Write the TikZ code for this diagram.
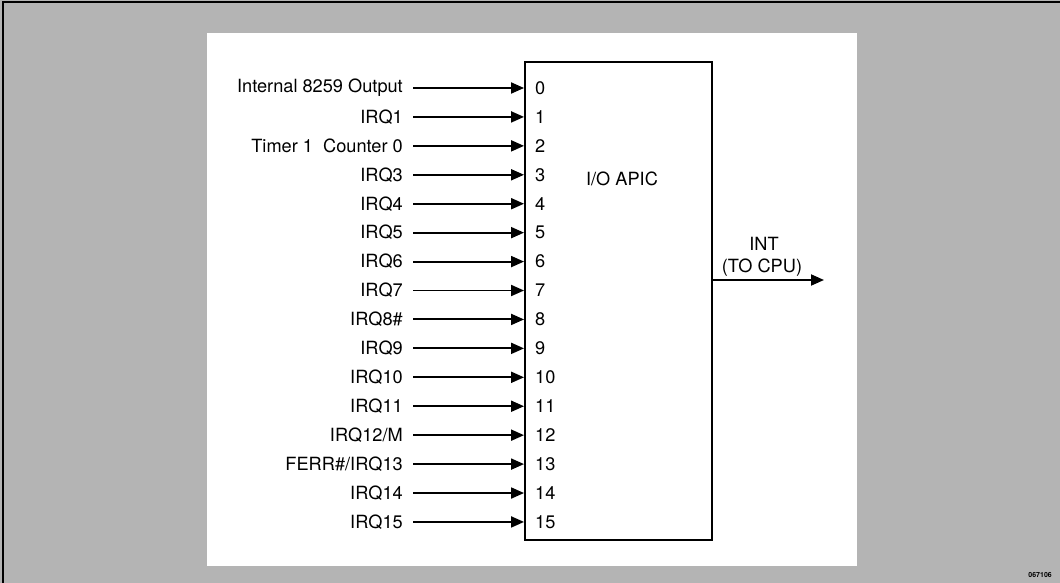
\documentclass[tikz,border=0pt]{standalone}
\usepackage{fontspec}
\setmainfont{TeX Gyre Heros}
\usetikzlibrary{arrows.meta}
\definecolor{halftone}{HTML}{B4B4B4}
\tikzset{
  txt/.style={inner sep=0pt, font=\fontsize{18.2}{20}\selectfont},
  lbl/.style={txt, anchor=east},
  num/.style={txt, anchor=west},
  sig/.style={line width=1.9pt, -{Triangle[length=13pt,width=11pt]}},
  boxline/.style={line width=1.9pt},
}
\begin{document}
\begin{tikzpicture}[x=1pt,y=-1pt]
\useasboundingbox (0,0) rectangle (1060,583);
\fill[halftone] (0,0) rectangle (1060,583);
\draw[line width=2.5pt] (3,583) -- (3,2) -- (1060,2);
\fill[white] (207,33) rectangle (857,566);
\node[boxline, draw, minimum width=187pt, minimum height=478pt, inner sep=0pt] (apic) at (618.5,301) {};
\node[txt] (title) at (622,179) {I/O APIC};
\foreach \i/\t in {0/{Internal 8259 Output},1/{IRQ1},2/{Timer 1\ \ Counter 0},3/{IRQ3},4/{IRQ4},5/{IRQ5},6/{IRQ6},7/{IRQ7},8/{IRQ8\#},9/{IRQ9},10/{IRQ10},11/{IRQ11},12/{IRQ12/M},13/{FERR\#/IRQ13},14/{IRQ14},15/{IRQ15}} {
  \pgfmathsetmacro{\yy}{88+\i*28.93}
  \node[lbl] (l\i) at (403,\yy) {\t};
  \coordinate (s\i) at (413,\yy);
  \coordinate (e\i) at (apic.west |- s\i);
  \draw[sig] (s\i) -- (e\i);
  \node[num] (n\i) at (535,\yy) {\i};
}
\coordinate (out) at (824,280);
\draw[sig] (apic.east |- out) -- (out);
\node[txt] (int) at (764,244) {INT};
\node[txt] (tocpu) at (762,268) {(TO CPU)};
\node[anchor=east, inner sep=0pt, font=\fontsize{7}{8}\selectfont\bfseries] (fig) at (1052,575) {067106};
\end{tikzpicture}
\end{document}
